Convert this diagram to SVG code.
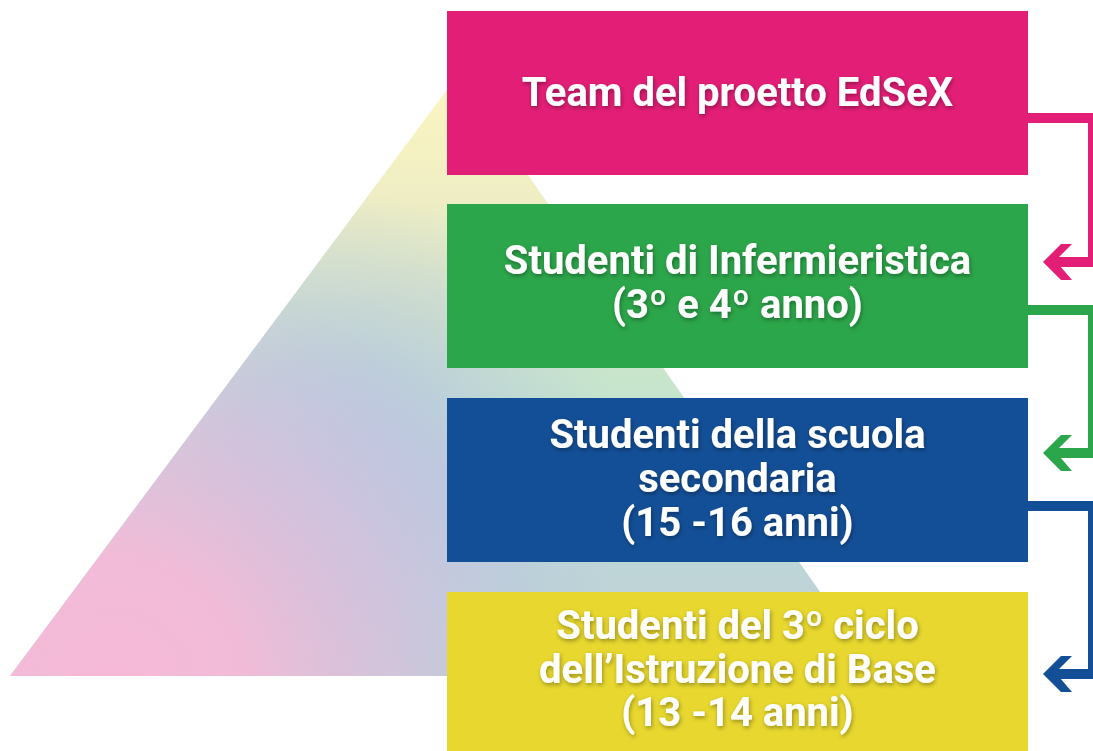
<svg xmlns="http://www.w3.org/2000/svg" width="1093" height="751" viewBox="0 0 1093 751">
<defs>
<linearGradient id="base" gradientUnits="userSpaceOnUse" x1="0" y1="90" x2="0" y2="676">
<stop offset="0" stop-color="#fbf5c0"/>
<stop offset="0.19" stop-color="#eeedc4"/>
<stop offset="0.36" stop-color="#d6e6c8"/>
<stop offset="0.51" stop-color="#c6e5cc"/>
<stop offset="0.67" stop-color="#bfd8d6"/>
<stop offset="1" stop-color="#bdd1d8"/>
</linearGradient>
<radialGradient id="blue" gradientUnits="userSpaceOnUse" cx="330" cy="490" r="300">
<stop offset="0" stop-color="#b8c6e0" stop-opacity="1"/>
<stop offset="0.35" stop-color="#b8c6e0" stop-opacity="0.85"/>
<stop offset="0.7" stop-color="#b8c6e0" stop-opacity="0.35"/>
<stop offset="1" stop-color="#b8c6e0" stop-opacity="0"/>
</radialGradient>
<radialGradient id="pink" gradientUnits="userSpaceOnUse" cx="110" cy="690" r="440">
<stop offset="0" stop-color="#f6b9d7" stop-opacity="1"/>
<stop offset="0.3" stop-color="#f4bad7" stop-opacity="0.95"/>
<stop offset="0.65" stop-color="#e3bfdb" stop-opacity="0.55"/>
<stop offset="1" stop-color="#d0c4de" stop-opacity="0"/>
</radialGradient>
<filter id="sh" x="-10%" y="-30%" width="120%" height="160%">
<feDropShadow dx="1" dy="2" stdDeviation="2" flood-color="#000" flood-opacity="0.35"/>
</filter>
</defs>
<style>
.lbl{font-family:Roboto,"Liberation Sans",sans-serif;font-weight:700;font-size:40px;fill:#fff;text-anchor:middle;filter:url(#sh)}
.ln{fill:none;stroke-width:10;stroke-linejoin:miter}
</style>
<g id="pyramid">
<polygon points="10,676 458,75 879,676" fill="url(#base)"/>
<polygon points="10,676 458,75 879,676" fill="url(#blue)"/>
<polygon points="10,676 458,75 879,676" fill="url(#pink)"/>
</g>
<g id="connectors">
<polyline class="ln" stroke="#e31e76" points="1028,118 1093,118 1093,262 1058,262"/>
<polygon fill="#e31e76" points="1043,262 1061,244 1072,244 1058,258 1060,266 1072,280 1061,280"/>
<polyline class="ln" stroke="#2ca64a" points="1028,310 1093,310 1093,453 1058,453"/>
<polygon fill="#2ca64a" points="1043,453 1061,435 1072,435 1058,449 1060,457 1072,471 1061,471"/>
<polyline class="ln" stroke="#134f97" points="1028,506 1093,506 1093,674 1058,674"/>
<polygon fill="#134f97" points="1043,674 1061,656 1072,656 1058,670 1060,678 1072,692 1061,692"/>
</g>
<g id="node1">
<rect x="447" y="11" width="581" height="164" fill="#e31e76"/>
<text class="lbl" x="737.5" y="106">Team del proetto EdSeX</text>
</g>
<g id="node2">
<rect x="447" y="204" width="581" height="164" fill="#2ca64a"/>
<text class="lbl" x="737.5" y="274">Studenti di Infermieristica</text>
<text class="lbl" x="737.5" y="318">(3º e 4º anno)</text>
</g>
<g id="node3">
<rect x="447" y="398" width="581" height="164" fill="#134f97"/>
<text class="lbl" x="737.5" y="448">Studenti della scuola</text>
<text class="lbl" x="737.5" y="492">secondaria</text>
<text class="lbl" x="737.5" y="536">(15 -16 anni)</text>
</g>
<g id="node4">
<rect x="447" y="592" width="581" height="165" fill="#e7d72e"/>
<text class="lbl" x="737.5" y="639">Studenti del 3º ciclo</text>
<text class="lbl" x="737.5" y="683">dell’Istruzione di Base</text>
<text class="lbl" x="737.5" y="726">(13 -14 anni)</text>
</g>
</svg>
